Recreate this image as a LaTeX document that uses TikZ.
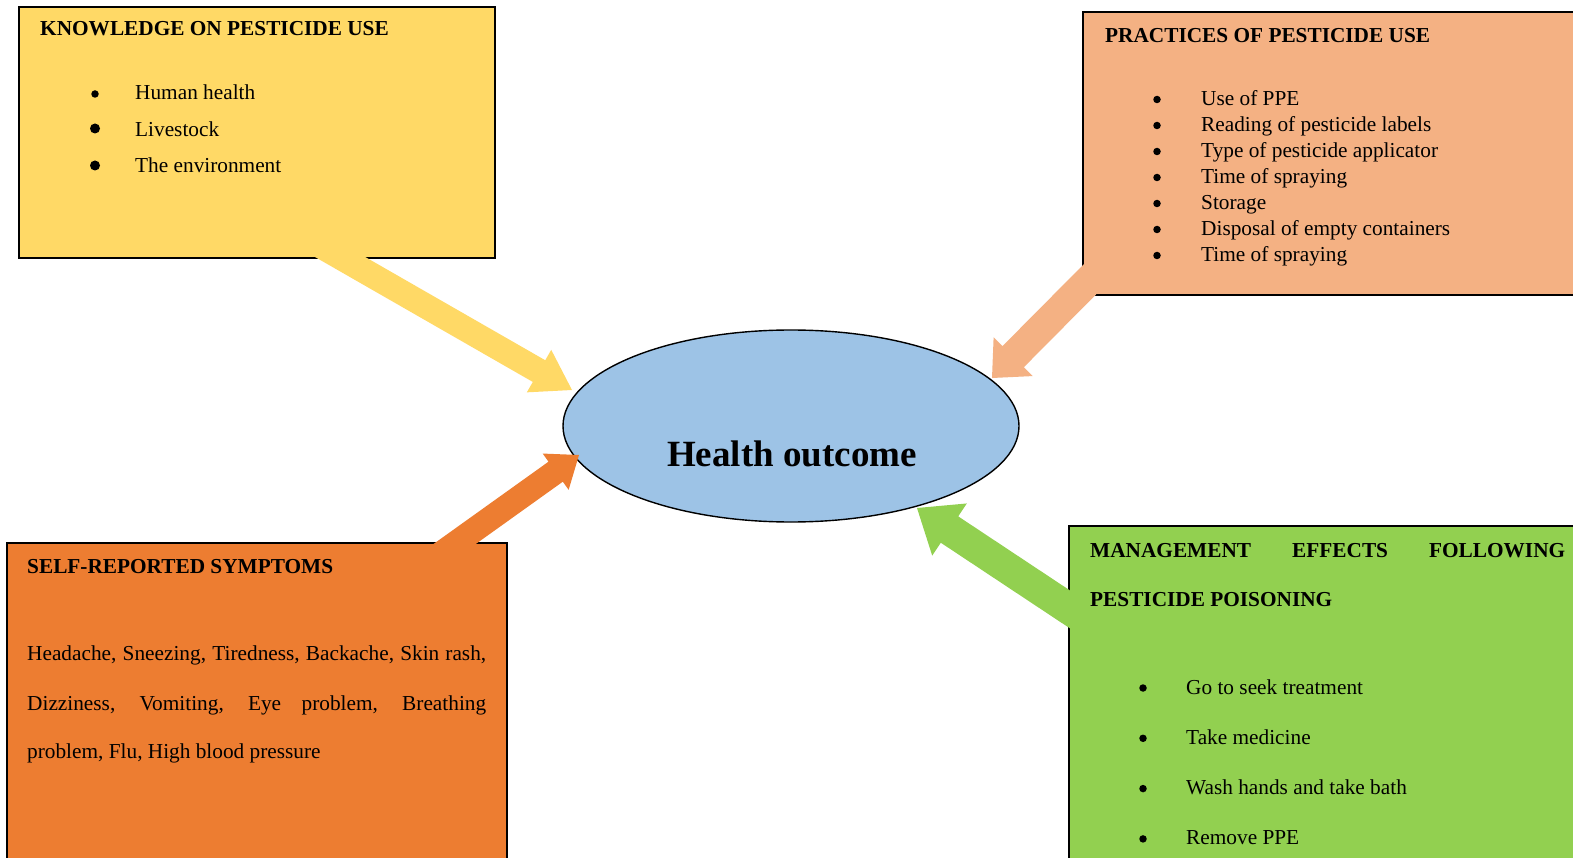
\documentclass[tikz,border=0pt]{standalone}
\usepackage{fontspec}
\setmainfont{Liberation Serif}
\usetikzlibrary{calc,shapes.geometric}
\definecolor{yelbox}{HTML}{FFD966}
\definecolor{peach}{HTML}{F4B183}
\definecolor{orng}{HTML}{ED7D31}
\definecolor{grn}{HTML}{92D050}
\definecolor{blu}{HTML}{9DC3E6}
% colour, start, tip, half shaft width, half head width, head length
\newcommand\blkarrow[6]{%
  \coordinate (hb#1) at ($(#3)!#6!(#2)$);
  \fill[#1] ($(#2)!#4!90:(#3)$) -- ($(hb#1)!#4!90:(#3)$) -- ($(hb#1)!#5!90:(#3)$)
    -- (#3) -- ($(hb#1)!#5!-90:(#3)$) -- ($(hb#1)!#4!-90:(#3)$) -- ($(#2)!#4!-90:(#3)$) -- cycle;}
\tikzset{
  box/.style={draw=black, line width=2pt, anchor=north west, inner sep=0pt, outer sep=0pt},
  txt/.style={anchor=base west, inner sep=0pt, font=\fontsize{21.3}{26}\selectfont},
  ttl/.style={anchor=base west, inner sep=0pt, font=\fontsize{21.3}{26}\selectfont\bfseries},
  bul/.style={circle, fill=black, inner sep=0pt, minimum size=#1},
  bul/.default=7.5pt
}
\begin{document}
\begin{tikzpicture}[x=1pt,y=-1pt]
\useasboundingbox (0,0) rectangle (1573,858);
\clip (0,0) rectangle (1573,858);
\fill[white] (0,0) rectangle (1573,858);
% boxes
\node[box, fill=yelbox, minimum width=476pt, minimum height=251pt] (kb) at (19,7) {};
\node[box, fill=peach, minimum width=517pt, minimum height=283pt] (pb) at (1083,12) {};
\node[box, fill=orng, minimum width=500pt, minimum height=337pt] (sb) at (7,543) {};
\node[box, fill=grn, minimum width=531pt, minimum height=354pt] (mb) at (1069,526) {};
% ellipse
\node[ellipse, draw=black, line width=1.4pt, fill=blu, minimum width=456pt, minimum height=192pt, inner sep=0pt] (ho) at (791,426) {};
% arrow ends
\coordinate (ka) at (307,238);  \coordinate (kt) at (572,390);
\coordinate (pa) at (1120,249); \coordinate (pt) at (992,378);
\coordinate (sa) at (427.5,563.4); \coordinate (st) at (579,455);
\coordinate (ma) at (1098,628); \coordinate (mt) at (917,508);
\blkarrow{yelbox}{ka}{kt}{12.5pt}{24.5pt}{38pt}
\blkarrow{peach}{pa}{pt}{15pt}{27.5pt}{30pt}
\blkarrow{orng}{sa}{st}{12.3pt}{22.3pt}{28.7pt}
\blkarrow{grn}{ma}{mt}{15.8pt}{31.3pt}{39pt}
% centre text
\node[anchor=base, inner sep=0pt, font=\fontsize{37}{44}\selectfont\bfseries] (hot) at (792,466) {Health outcome};
% knowledge
\node[ttl] (kt1) at (40,36) {KNOWLEDGE ON PESTICIDE USE};
\node[bul] (kb1) at (95,94) {};
\node[txt] (ki1) at (135,100) {Human health};
\node[bul=10pt] (kb2) at (95,128.5) {};
\node[txt] (ki2) at (135,137) {Livestock};
\node[bul=10pt] (kb3) at (95,165.5) {};
\node[txt] (ki3) at (135,173) {The environment};
% practices
\node[ttl] (pt1) at (1105,43) {PRACTICES OF PESTICIDE USE};
\foreach \t [count=\i] in {Use of PPE, Reading of pesticide labels, Type of pesticide applicator, Time of spraying, Storage, Disposal of empty containers, Time of spraying} {
  \node[bul] (pbl\i) at (1157,{99.5+26*(\i-1)}) {};
  \node[txt] (pit\i) at (1201,{106+26*(\i-1)}) {\t};
}
% symptoms
\node[ttl] (st1) at (27,573) {SELF-REPORTED SYMPTOMS};
\node[txt] (sl1) at (27,660) {\makebox[459pt][s]{Headache, Sneezing, Tiredness, Backache, Skin rash,}};
\node[txt] (sl2) at (27,710) {\makebox[459pt][s]{Dizziness, Vomiting, Eye problem, Breathing}};
\node[txt] (sl3) at (27,758) {problem, Flu, High blood pressure};
% management
\node[ttl] (mt1) at (1090,557) {\makebox[475pt][s]{MANAGEMENT EFFECTS FOLLOWING}};
\node[ttl] (mt2) at (1090,606) {PESTICIDE POISONING};
\foreach \t [count=\i] in {Go to seek treatment, Take medicine, Wash hands and take bath, Remove PPE} {
  \node[bul] (mbl\i) at (1143,{688+50.3*(\i-1)}) {};
  \node[txt] (mit\i) at (1186,{694+50.3*(\i-1)}) {\t};
}
\end{tikzpicture}
\end{document}
